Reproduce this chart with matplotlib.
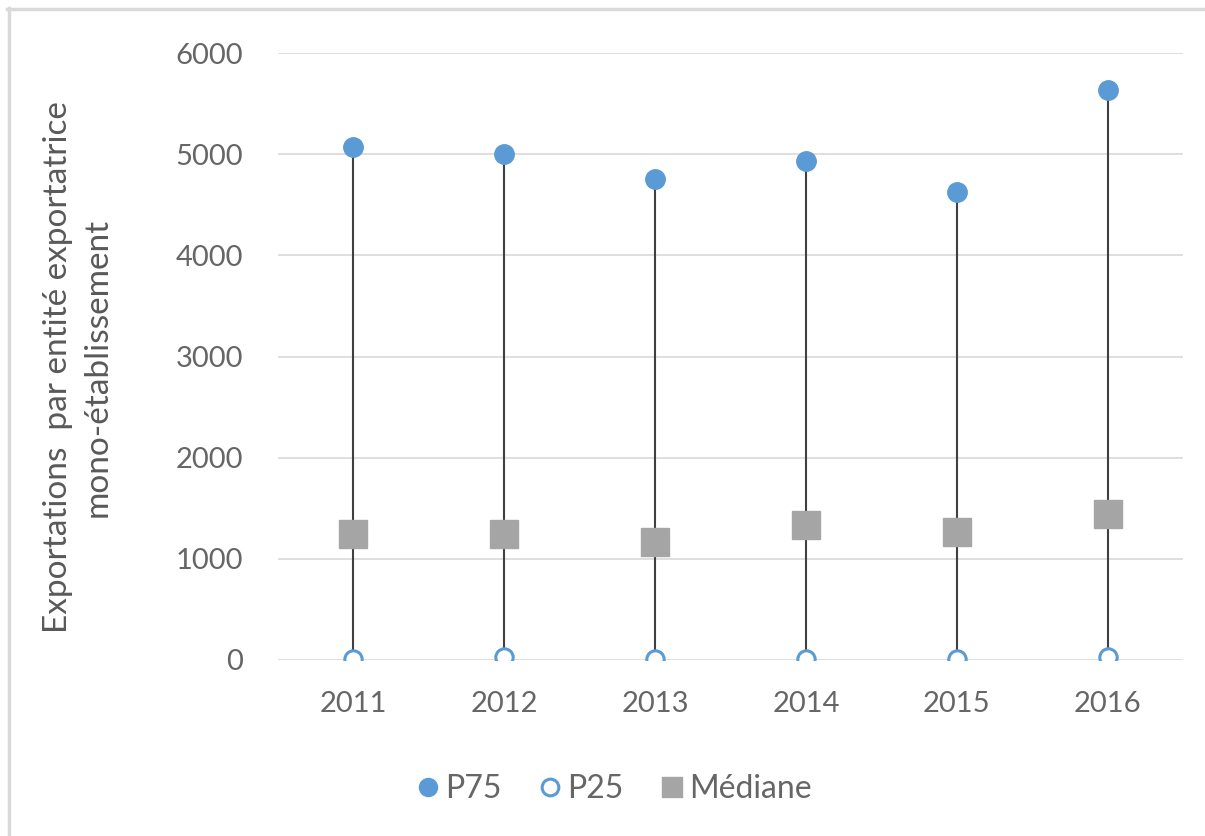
import numpy as np
import matplotlib
matplotlib.use("Agg")
import matplotlib.pyplot as plt
from matplotlib.lines import Line2D

# ---------- data ----------
years = ["2011", "2012", "2013", "2014", "2015", "2016"]
p75 = [5070, 5000, 4755, 4930, 4625, 5635]
p25 = [10, 30, 10, 10, 10, 30]
median = [1245, 1245, 1170, 1335, 1265, 1445]
yticks = [0, 1000, 2000, 3000, 4000, 5000, 6000]
ylabel = "Exportations  par entité exportatrice\nmono-établissement"
# --------------------------

BLUE = "#5b9bd5"
GRAY = "#a5a5a5"
TEXT = "#595959"
GRID = "#d9d9d9"

fig = plt.figure(figsize=(12.05, 8.36), dpi=100)
ax = fig.add_axes([278 / 1205, 1 - 660 / 836, (1183 - 278) / 1205, (660 - 53) / 836])

x = np.arange(len(years))

# high-low stems from P25 to P75
ax.vlines(x, p25, p75, color="#404040", lw=1.5, zorder=2)
ax.plot(x, p75, "o", ms=14, color=BLUE, mec=BLUE, zorder=3, label="P75")
ax.plot(x, p25, "o", ms=12.5, mfc="white", mec=BLUE, mew=2.2, zorder=3, label="P25")
ax.plot(x, median, "s", ms=20, color=GRAY, zorder=3, label="Médiane")

ax.set_xlim(-0.5, len(years) - 0.5)
ax.set_ylim(0, 6000)
ax.set_yticks(yticks)
ax.set_yticklabels([str(v) for v in yticks])
ax.set_xticks(x)
ax.set_xticklabels(years)
ax.grid(axis="y", color=GRID, lw=1.2, zorder=0)
ax.set_axisbelow(True)
for s in ax.spines.values():
    s.set_visible(False)
ax.tick_params(length=0, labelsize=21, labelcolor="#666666")
ax.tick_params(axis="y", pad=25)
ax.tick_params(axis="x", pad=22)
for t in ax.get_xticklabels() + ax.get_yticklabels():
    t.set_fontfamily("Lato")

fig.text(78 / 1205, 1 - 367 / 836, ylabel, rotation=90, ha="center", va="center",
         fontsize=24, color=TEXT, family="Lato", linespacing=1.4)

handles = [
    Line2D([], [], ls="none", marker="o", ms=13, color=BLUE, label="P75"),
    Line2D([], [], ls="none", marker="o", ms=12, mfc="white", mec=BLUE, mew=2.2, label="P25"),
    Line2D([], [], ls="none", marker="s", ms=15, color=GRAY, label="Médiane"),
]
leg = fig.legend(handles=handles, loc="center", bbox_to_anchor=(612 / 1205, 1 - 789 / 836),
                 ncol=3, frameon=False, handletextpad=0.05, columnspacing=1.0,
                 handlelength=1.0, prop={"family": "Lato", "size": 23})
for t in leg.get_texts():
    t.set_color("#666666")

# outer frame (left and top edges)
fig.add_artist(Line2D([8.5 / 1205, 8.5 / 1205], [0, 1 - 8 / 836], transform=fig.transFigure,
                      color="#d9d9d9", lw=2.5))
fig.add_artist(Line2D([7 / 1205, 1], [1 - 8.5 / 836, 1 - 8.5 / 836], transform=fig.transFigure,
                      color="#d9d9d9", lw=2.5))

fig.savefig("out.png", dpi=100, facecolor="white")
